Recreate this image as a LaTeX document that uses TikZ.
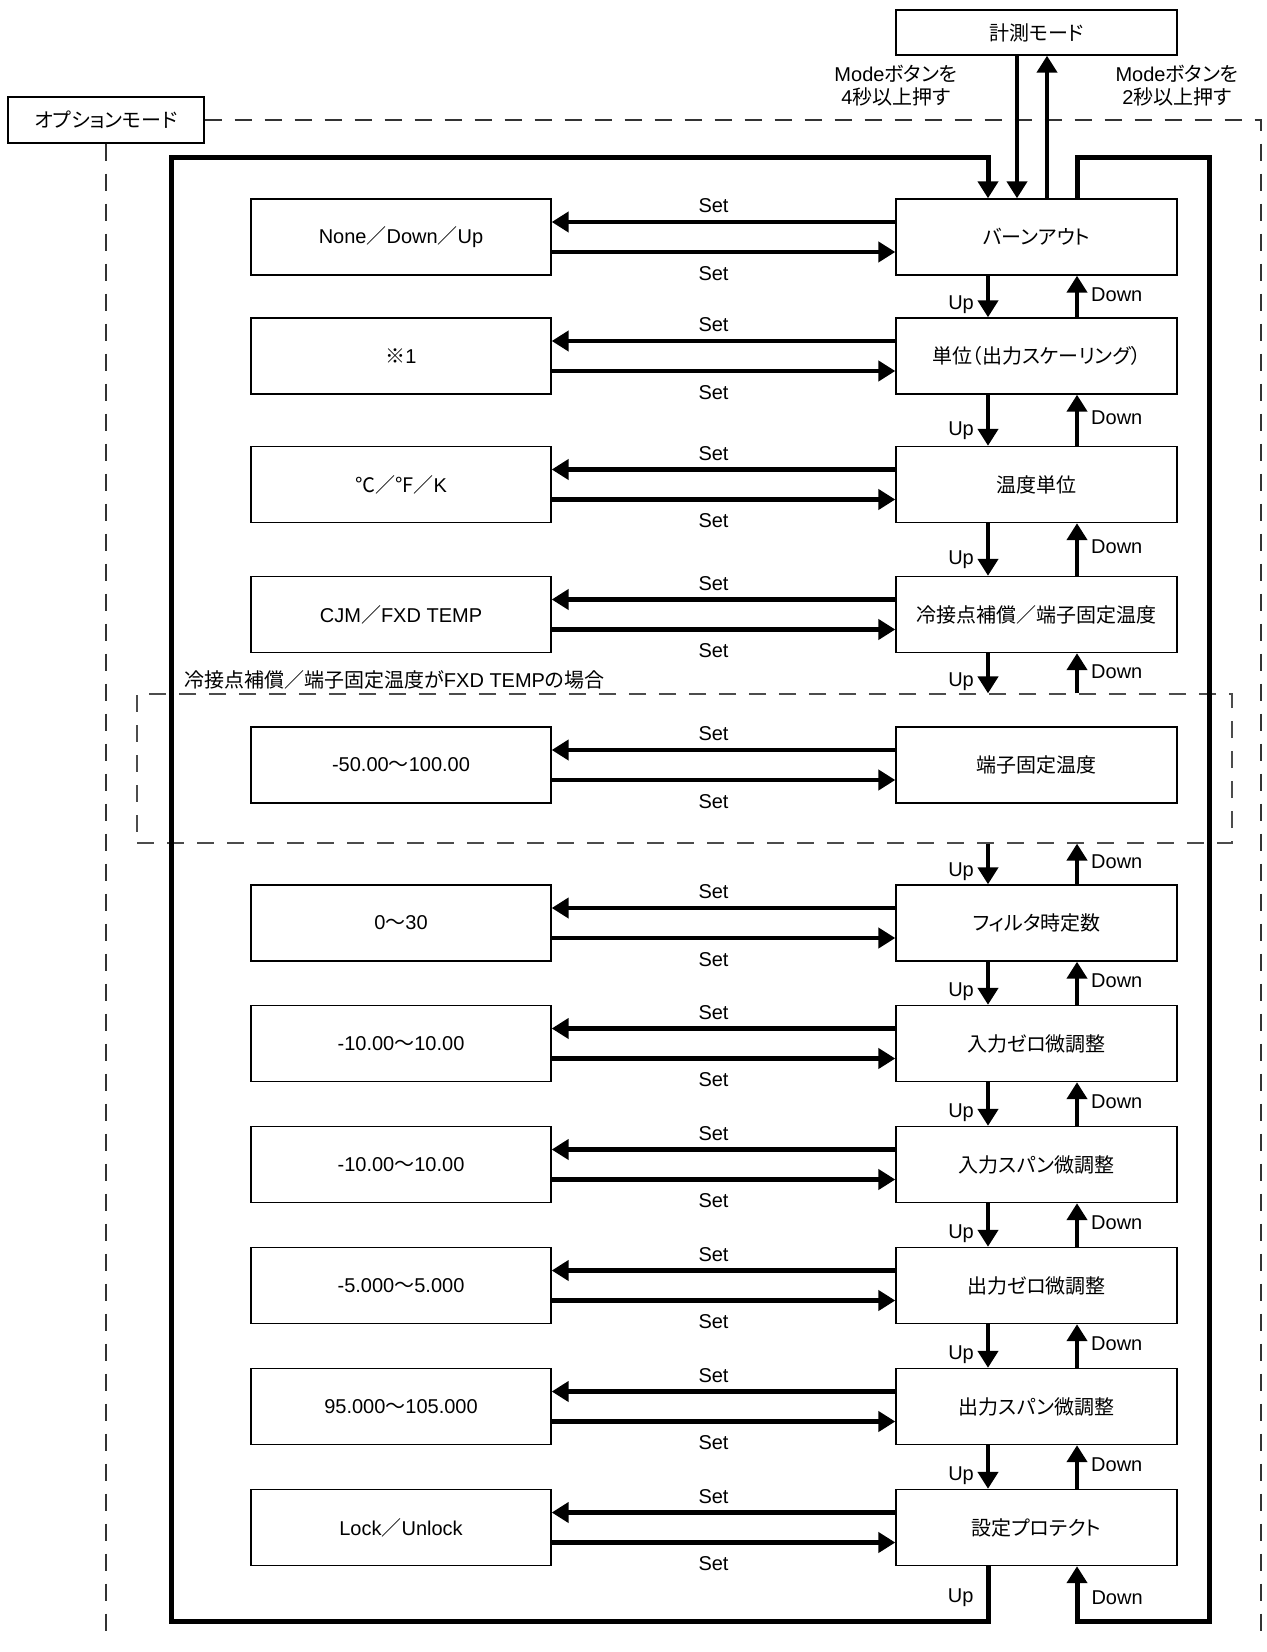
\documentclass[tikz,border=0pt]{standalone}
\usepackage{fontspec}
\setmainfont{Liberation Sans}
\newfontfamily\jp[RawFeature=+palt]{Noto Sans CJK JP}
\newfontfamily\jpf{Noto Sans CJK JP}
\usetikzlibrary{arrows.meta}

\begin{document}
\begin{tikzpicture}[x=0.5pt,y=-0.5pt,>={Triangle[width=10pt,length=8.5pt]},
  every node/.style={font=\fontsize{10}{11.5}\selectfont},
  item/.style={draw,line width=0.7pt,minimum width=140.5pt,minimum height=38pt,inner sep=0pt,font=\fontsize{10}{11.5}\selectfont\jp},
  val/.style={draw,line width=0.7pt,minimum width=150pt,minimum height=38pt,inner sep=0pt},
  lbl/.style={inner sep=1pt,font=\fontsize{10}{11.5}\selectfont},
  flow/.style={line width=2.2pt,->},
  loop/.style={line width=2.5pt},
  dsh/.style={line width=0.6pt,draw=black!80,dash pattern=on 8.5pt off 6.5pt}]
\useasboundingbox (0,0) rectangle (1266,1652);
\coordinate (upx) at (988,0);
\coordinate (dnx) at (1077,0);
\coordinate (lpx) at (171,0);
\coordinate (rpx) at (1209,0);
\coordinate (topy) at (0,158);
\coordinate (boty) at (0,1621);
\node[item,minimum height=22.5pt] (meas) at (1036.5,32.5) {計測モード};
\node[item,minimum width=98pt,minimum height=23pt] (opt) at (106,120) {オプションモード};
\node[align=center] (mode_dn) at (896,86) {Mode{\jp ボタンを}\\4{\jp 秒以上押す}};
\node[align=center] (mode_up) at (1177,86) {Mode{\jp ボタンを}\\2{\jp 秒以上押す}};
\coordinate (optr) at (1261,0);
\coordinate (optb) at (0,1640);
\draw[dsh] (opt.east) -- (optr |- opt.east) -- (optr |- optb);
\draw[dsh] (opt.south) -- (opt.south |- optb);
\node[dsh,draw=black!70,minimum width=547.5pt,minimum height=74.5pt,inner sep=0pt] (fxd) at (684.5,768.5) {};
\node[anchor=west,inner sep=0pt,font=\fontsize{10}{11.5}\selectfont\jp] (fxd_note) at (184,680) {冷接点補償{\jpf ／}端子固定温度が{\rmfamily FXD TEMP}の場合};
\node[item] (m0) at (1036.5,237) {バーンアウト};
\node[item] (m1) at (1036.5,356) {単位（出力スケーリング）};
\node[item] (m2) at (1036.5,484.5) {温度単位};
\node[item] (m3) at (1036.5,614.5) {冷接点補償{\jpf ／}端子固定温度};
\node[item] (m4) at (1036.5,765) {端子固定温度};
\node[item] (m5) at (1036.5,923) {フィルタ時定数};
\node[item] (m6) at (1036.5,1043.5) {入力ゼロ微調整};
\node[item] (m7) at (1036.5,1164.5) {入力スパン微調整};
\node[item] (m8) at (1036.5,1285.5) {出力ゼロ微調整};
\node[item] (m9) at (1036.5,1406.5) {出力スパン微調整};
\node[item] (m10) at (1036.5,1527.5) {設定プロテクト};
\node[val] (v0) at (401,237) {None{\jpf ／}Down{\jpf ／}Up};
\node[val] (v1) at (401,356) {{\jpf ※}1};
\node[val] (v2) at (401,484.5) {{\jpf ℃／°F／}K};
\node[val] (v3) at (401,614.5) {CJM{\jpf ／}FXD TEMP};
\node[val] (v4) at (401,765) {-50.00{\jpf ～}100.00};
\node[val] (v5) at (401,923) {0{\jpf ～}30};
\node[val] (v6) at (401,1043.5) {-10.00{\jpf ～}10.00};
\node[val] (v7) at (401,1164.5) {-10.00{\jpf ～}10.00};
\node[val] (v8) at (401,1285.5) {-5.000{\jpf ～}5.000};
\node[val] (v9) at (401,1406.5) {95.000{\jpf ～}105.000};
\node[val] (v10) at (401,1527.5) {Lock{\jpf ／}Unlock};
% mode button
\draw[flow] (meas.south -| 1017,0) -- (m0.north -| 1017,0);
\draw[flow] (m0.north -| 1047,0) -- (meas.south -| 1047,0);
% set
\foreach \i in {0,...,10}{
  \draw[flow] ([yshift=7.5pt]m\i.west) -- node[lbl,above=2.5pt,xshift=-5pt]{Set} ([yshift=7.5pt]v\i.east);
  \draw[flow] ([yshift=-7.5pt]v\i.east) -- node[lbl,below=5pt,xshift=-5pt]{Set} ([yshift=-7.5pt]m\i.west);
}
% up / down
\foreach \a/\b in {m0.south/m1.north,m1.south/m2.north,m2.south/m3.north,m3.south/fxd.north,fxd.south/m5.north,m5.south/m6.north,m6.south/m7.north,m7.south/m8.north,m8.south/m9.north,m9.south/m10.north}{
  \draw[flow] (\a -| upx) -- node[lbl,pos=.7,left=5pt]{Up} (\b -| upx);
  \draw[flow] (\b -| dnx) -- node[lbl,pos=.55,right=5pt]{Down} (\a -| dnx);
}
\draw[loop,->] (m10.south -| upx) -- node[lbl,pos=.57,left=5pt]{Up} (upx |- boty) -- (lpx |- boty) -- (lpx |- topy) -- (upx |- topy) -- (m0.north -| upx);
\draw[loop,->] (m0.north -| dnx) -- (dnx |- topy) -- (rpx |- topy) -- (rpx |- boty) -- (dnx |- boty) -- node[lbl,pos=.43,right=5pt]{Down} (m10.south -| dnx);
\end{tikzpicture}
\end{document}
